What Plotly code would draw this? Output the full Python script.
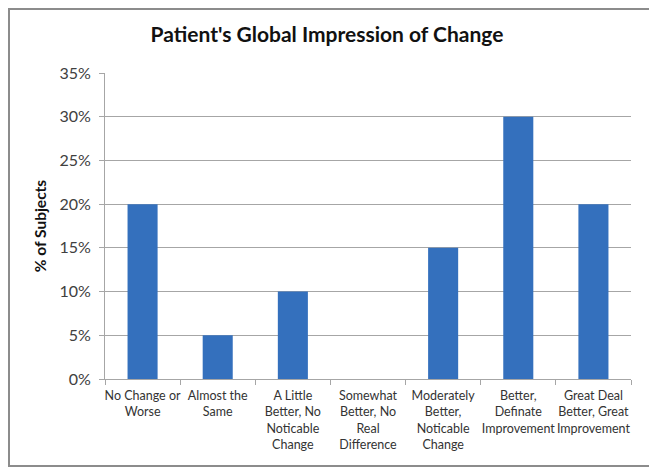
import plotly.graph_objects as go

categories = [
    "No Change or<br>Worse",
    "Almost the<br>Same",
    "A Little<br>Better, No<br>Noticable<br>Change",
    "Somewhat<br>Better, No<br>Real<br>Difference",
    "Moderately<br>Better,<br>Noticable<br>Change",
    "Better,<br>Definate<br>Improvement",
    "Great Deal<br>Better, Great<br>Improvement",
]
pct_subjects = [0.20, 0.05, 0.10, 0.0, 0.15, 0.30, 0.20]
y_ticks = [0, 0.05, 0.10, 0.15, 0.20, 0.25, 0.30, 0.35]

# page body has an 8px margin, so the figure is a bit smaller than the window
W, H = 649, 462
L, R, T, B = 97, 26, 65, 91
pw, ph = W - L - R, H - T - B

fig = go.Figure()
fig.add_trace(go.Bar(
    x=categories,
    y=pct_subjects,
    marker=dict(color="#3470bd", line=dict(width=0)),
    width=0.40,
))

fig.update_layout(
    width=W,
    height=H,
    margin=dict(l=L, r=R, t=T, b=B),
    paper_bgcolor="white",
    plot_bgcolor="white",
    font=dict(family="Lato, Open Sans, sans-serif", color="#404040"),
    title=dict(
        text="<b>Patient's Global Impression of Change</b>",
        x=319 / W, xanchor="center", y=1 - 27 / H, yanchor="middle",
        font=dict(size=21, color="#111111"),
    ),
    showlegend=False,
)

fig.update_yaxes(
    range=[0, 0.35],
    tickvals=y_ticks,
    tickformat=".0%",
    showgrid=True,
    gridcolor="#a6a6a6",
    gridwidth=1,
    showline=True,
    linecolor="#a6a6a6",
    ticks="outside",
    ticklen=5,
    tickcolor="#a6a6a6",
    tickfont=dict(size=16, color="#404040"),
    ticklabelstandoff=5,
    title=dict(text="<b>% of Subjects</b>", font=dict(size=15.5, color="#111111"), standoff=8),
    zeroline=False,
    automargin=False,
)

fig.update_xaxes(
    showline=True,
    linecolor="#a6a6a6",
    ticks="outside",
    tickson="boundaries",
    ticklen=5,
    tickcolor="#a6a6a6",
    tickfont=dict(size=12.5, color="#333333"),
    ticklabelstandoff=5,
    tickangle=0,
    automargin=False,
)

# outer frame of the chart
fig.add_shape(
    type="rect", xref="paper", yref="paper",
    x0=(1 - L) / pw, x1=(W - 5 - L) / pw,
    y0=-(H - 4 - (T + ph)) / ph, y1=(T + ph - 1) / ph,
    line=dict(color="#8c8c8c", width=2),
)

fig.write_html("out.html")
